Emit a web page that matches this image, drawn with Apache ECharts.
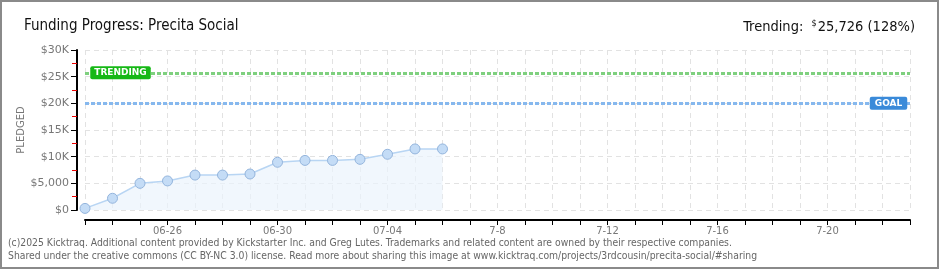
<!DOCTYPE html>
<html><head><meta charset="utf-8">
<script src="https://cdn.jsdelivr.net/npm/echarts@6/dist/echarts.min.js"></script>
<style>html,body{margin:0;padding:0;background:#fff}#c{width:940px;height:270px}</style>
</head><body><div id="c"></div>
<script>
var categories = ['06-23','06-24','06-25','06-26','06-27','06-28','06-29','06-30','07-01','07-02','07-03','07-04','07-05','07-06','07-07','07-08','07-09','07-10','07-11','07-12','07-13','07-14','07-15','07-16','07-17','07-18','07-19','07-20','07-21','07-22','07-23'];
var tickLabels = {'06-26':'06-26','06-30':'06-30','07-04':'07-04','07-08':'7-8','07-12':'7-12','07-16':'7-16','07-20':'7-20'};
var pledged = [300, 2200, 5000, 5450, 6550, 6550, 6750, 8950, 9300, 9300, 9500, 10450, 11450, 11450];
var trendingValue = 25726;
var goalValue = 20000;
var titleText = 'Funding Progress: Precita Social';
var trendText = '25,726 (128%)';
var yAxisName = 'PLEDGED';

var narrow = "'Liberation Sans Narrow', 'DejaVu Sans Condensed', 'Liberation Sans', sans-serif";
var axisFont = "'DejaVu Sans', sans-serif";
var chart = echarts.init(document.getElementById('c'));
chart.setOption({
  animation: false,
  grid: {left: 85, right: 30, top: 50, bottom: 60},
  title: [
    {text: titleText, left: 19, top: 14, textStyle: {fontFamily: narrow, fontSize: 15, fontWeight: 'normal', color: '#111'}},
    {text: '{t|Trending:  }{s|$}{t|' + trendText + '}', right: 20, top: 14,
     textStyle: {fontWeight: 'normal', rich: {t: {fontFamily: narrow, fontSize: 14.5, fontWeight: 'normal', color: '#111'}, s: {fontFamily: narrow, fontSize: 9, fontWeight: 'normal', color: '#111', verticalAlign: 'top', padding: [0,1,8,0]}}}}
  ],
  xAxis: {
    type: 'category', data: categories, boundaryGap: false, offset: 10,
    axisLine: {onZero: false, lineStyle: {color: '#000', width: 2}},
    axisTick: {interval: 0, length: 5, lineStyle: {color: '#000', width: 1}},
    axisLabel: {interval: 0, margin: 6, fontFamily: axisFont, fontSize: 10, color: '#777',
      formatter: function (v) { return tickLabels[v] || ''; }},
    splitLine: {show: true, interval: 0, lineStyle: {color: '#e2e2e2', type: [5, 4]}}
  },
  yAxis: {
    type: 'value', min: 0, max: 30000, interval: 5000, offset: 8,
    axisLine: {show: true, lineStyle: {color: '#000', width: 2}},
    axisTick: {show: true, length: 6, lineStyle: {color: '#000'}},
    minorTick: {show: true, splitNumber: 2, length: 5, lineStyle: {color: '#e00'}},
    axisLabel: {fontFamily: axisFont, fontSize: 11, color: '#777', margin: 8,
      formatter: function (v) { if (v === 0) return '$0'; if (v < 10000) return '$' + v.toLocaleString('en-US'); return '$' + (v / 1000) + 'K'; }},
    splitLine: {show: true, lineStyle: {color: '#e2e2e2', type: [5, 4]}}
  },
  series: [{
    type: 'line', data: pledged, symbol: 'circle', symbolSize: 10,
    lineStyle: {color: '#b8d5f3', width: 1.5},
    itemStyle: {color: '#c4dcf6', borderColor: '#93b4dc', borderWidth: 1},
    areaStyle: {color: '#ebf3fc'},
    markLine: {
      silent: true, symbol: 'none',
      label: {show: false},
      data: [
        {yAxis: trendingValue, lineStyle: {color: '#7fd07f', width: 3, type: [4, 2]}},
        {yAxis: goalValue, lineStyle: {color: '#86b8ee', width: 3, type: [4, 2]}}
      ]
    },
    markPoint: {
      silent: true,
      data: [
        {coord: [1, trendingValue], symbol: 'rect', symbolSize: 0, symbolOffset: [8, 0],
         label: {show: true, position: 'inside', formatter: 'TRENDING', color: '#fff', fontFamily: axisFont, fontSize: 9, fontWeight: 'bold',
           backgroundColor: '#16b816', borderRadius: 2, padding: [2, 4, 2, 4]}},
        {coord: [29, goalValue], symbol: 'rect', symbolSize: 0, symbolOffset: [6, 0],
         label: {show: true, position: 'inside', formatter: 'GOAL', color: '#fff', fontFamily: axisFont, fontSize: 9, fontWeight: 'bold',
           backgroundColor: '#3a8ad9', borderRadius: 2, padding: [2, 5, 2, 5]}}
      ]
    }
  }],
  graphic: [
    {type: 'rect', shape: {x: 1, y: 1, width: 937, height: 267}, style: {fill: 'none', stroke: '#8a8a8a', lineWidth: 2}, z: 100},
    {type: 'text', x: 21, y: 130, rotation: Math.PI / 2, style: {text: yAxisName, fill: '#777', font: "10px 'DejaVu Sans', sans-serif", align: 'center', verticalAlign: 'middle'}},
    {type: 'text', left: 8, top: 238, style: {text: '(c)2025 Kicktraq. Additional content provided by Kickstarter Inc. and Greg Lutes. Trademarks and related content are owned by their respective companies.', fill: '#666', font: "10.3px 'Liberation Sans Narrow', 'DejaVu Sans Condensed', sans-serif"}},
    {type: 'text', left: 8, top: 251, style: {text: 'Shared under the creative commons (CC BY-NC 3.0) license. Read more about sharing this image at www.kicktraq.com/projects/3rdcousin/precita-social/#sharing', fill: '#666', font: "10.3px 'Liberation Sans Narrow', 'DejaVu Sans Condensed', sans-serif"}}
  ]
});
</script></body></html>
